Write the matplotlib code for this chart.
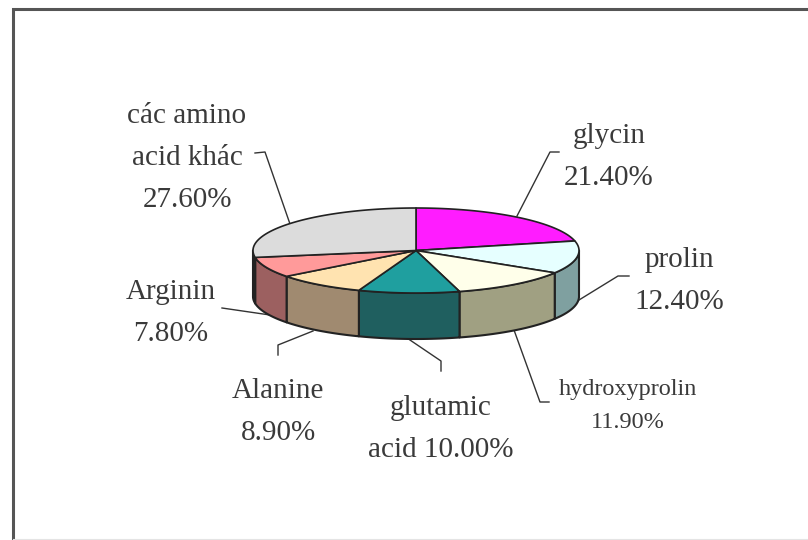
import matplotlib
matplotlib.use('Agg')
import matplotlib.pyplot as plt
import numpy as np

# composition, clockwise from 12 o'clock
names = ['glycin', 'prolin', 'hydroxyprolin', 'glutamic\nacid', 'Alanine', 'Arginin', 'các amino\nacid khác']
values = [21.4, 12.4, 11.9, 10.0, 8.9, 7.8, 27.6]
top_colors = ['#ff1cff', '#e6ffff', '#ffffea', '#1f9f9f', '#ffe3b0', '#ff9a9a', '#dcdcdc']
side_colors = ['#808080', '#7fa0a0', '#a0a082', '#1f5f5f', '#a08a70', '#9c6060', '#303030']

# pie geometry in pixels
cx, cy = 416, 250.5
rx, ry = 163, 42.5
depth = 46

plt.rcParams['font.family'] = ['Liberation Serif', 'DejaVu Serif']

fig = plt.figure(figsize=(8.08, 5.40), dpi=100)
ax = fig.add_axes([0, 0, 1, 1])
ax.set_xlim(0, 808)
ax.set_ylim(540, 0)
ax.axis('off')


def rim(a0, a1):
    t = np.radians(np.linspace(a0, a1, 80))
    return cx + rx * np.sin(t), cy - ry * np.cos(t)


# border, only left and top show up plus a faint bottom edge
ax.plot([13, 13, 808], [540, 9, 9], color='#555555', lw=2.2, solid_joinstyle='miter', zorder=1)
ax.plot([13, 808], [538.5, 538.5], color='#e4e4e4', lw=0.8, zorder=1)

# leader lines
leaders = [
    ([559, 550, 517], [152, 152, 216]),
    ([629, 618, 553], [276, 276, 316]),
    ([549, 540, 514], [402, 402, 330]),
    ([441, 441, 407], [371, 361, 338]),
    ([278, 278, 313], [355, 345, 331]),
    ([222, 270], [308, 315]),
    ([255, 265, 290], [153, 152, 224]),
]
for lx, ly in leaders:
    ax.plot(lx, ly, color='#333333', lw=1.0, zorder=2)

# side walls first, then the top slices
bounds = np.cumsum([0] + values) * 3.6
for i in range(len(values)):
    a0, a1 = bounds[i], bounds[i + 1]
    lo, hi = max(a0, 90), min(a1, 270)
    if lo < hi:
        x, y = rim(lo, hi)
        ax.fill(np.r_[x, x[::-1]], np.r_[y, y[::-1] + depth], fc=side_colors[i],
                ec='#222222', lw=1.5, zorder=3, joinstyle='round')
for i in range(len(values)):
    x, y = rim(bounds[i], bounds[i + 1])
    ax.fill(np.r_[cx, x], np.r_[cy, y], fc=top_colors[i], ec='#222222', lw=1.2, zorder=4,
            joinstyle='round')

# labels
label_x = [609, 679, 628, 441, 278, 171, 187]
label_y = [157, 281, 406, 429, 412, 313, 158]
label_size = [21, 21, 17.5, 21, 21, 21, 21]
label_gap = [1.8, 1.8, 1.8, 1.8, 1.8, 1.8, 1.8]
for i, name in enumerate(names):
    txt = f'{name}\n{values[i]:.2f}%'
    if name.startswith('glutamic'):
        txt = f'{name} {values[i]:.2f}%'
    ax.text(label_x[i], label_y[i], txt, ha='center', va='center', ma='center',
            fontsize=label_size[i], color='#3a3a3a', linespacing=label_gap[i], zorder=5)

fig.savefig('out.png', dpi=100, facecolor='white')
